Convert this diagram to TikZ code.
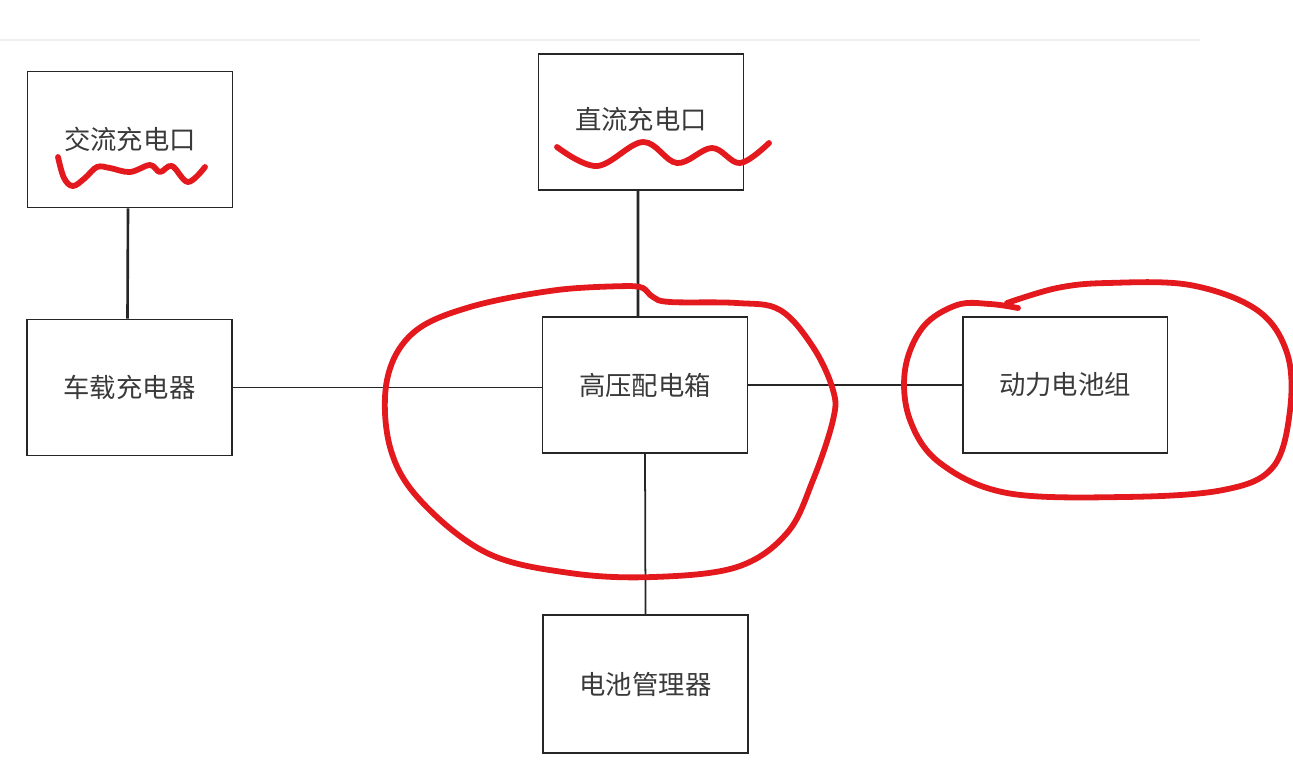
\documentclass[tikz,border=0pt]{standalone}
\usepackage{fontspec}
\newfontfamily\cjk{Noto Sans CJK SC}
\usepackage{tikz}
\usetikzlibrary{positioning}
\definecolor{penred}{HTML}{E3191E}
\definecolor{boxtext}{HTML}{3A3A3A}
\tikzset{
	unitbox/.style={draw=black!85, line width=1.1pt, fill=white, minimum width=4.1cm, minimum height=2.72cm, inner sep=0pt, font=\cjk\fontsize{15}{18}\selectfont\color{boxtext}}
}
\tikzset{
	wire/.style={draw=black!85, line width=1pt}
}
\tikzset{
	penmark/.style={draw=penred, line width=3.3pt, line cap=round, line join=round}
}

\begin{document}
\begin{tikzpicture}[x=0.02cm, y=-0.02cm]
\useasboundingbox (0,0) rectangle (1293,769);
\draw[black!6, line width=0.6pt] (0,40) -- (1200,40);

\coordinate (mAC) at (130,139.5);
\coordinate (mDC) at (641,122);
\coordinate (mOBC) at (129.5,387.5);
\coordinate (mPDU) at (645,385);
\coordinate (mBAT) at (1065,385);
\coordinate (mBMS) at (645.5,684);

\node[unitbox] (ac) at (mAC) {\raisebox{0.6mm}{交流充电口}};
\node[unitbox] (dc) at (mDC) {\raisebox{1.6mm}{直流充电口}};
\node[unitbox] (obc) at (mOBC) {车载充电器};
\node[unitbox] (pdu) at (mPDU) {高压配电箱};
\node[unitbox] (bat) at (mBAT) {动力电池组};
\node[unitbox, minimum height=2.76cm] (bms) at (mBMS) {电池管理器};

\draw[wire, line width=1.5pt] ([xshift=-0.04cm]ac.south) -- ([xshift=-0.04cm]obc.north);
\draw[wire, line width=1.5pt] ([xshift=-0.06cm]dc.south) -- ([xshift=-0.14cm]pdu.north);
\draw[wire] (obc.east) -- (obc.east -| pdu.west);
\draw[wire] (pdu.east) -- (bat.west);
\draw[wire] (pdu.south) -- (bms.north);

% hand drawn marks
\draw[penmark] plot[smooth, tension=0.6] coordinates {(58,157) (64,178) (73,186) (85,178) (97,167) (110,168) (130,172) (150,165) (160,172) (172,166) (188,182) (205,167)};
\draw[penmark] plot[smooth, tension=0.6] coordinates {(557,147) (597,166) (643,142) (677,163) (712,148) (740,163) (769,143)};
\draw[penmark] plot[smooth, tension=0.6] coordinates {(630,286) (557,290) (470,307) (413,333) (387,380) (390,447) (420,500) (487,553) (570,573) (653,577) (737,567) (787,533) (813,480) (833,420) (833,390) (813,347) (780,310) (737,303) (670,302) (653,297) (643,288) (630,286)};
\draw[penmark] plot[smooth, tension=0.6] coordinates {(1018,308) (990,304) (957,305) (923,327) (905,370) (910,420) (940,463) (1007,493) (1123,497) (1223,490) (1273,467) (1290,410) (1287,353) (1257,310) (1190,285) (1107,283) (1057,288) (1007,303)};

\end{tikzpicture}
\end{document}
